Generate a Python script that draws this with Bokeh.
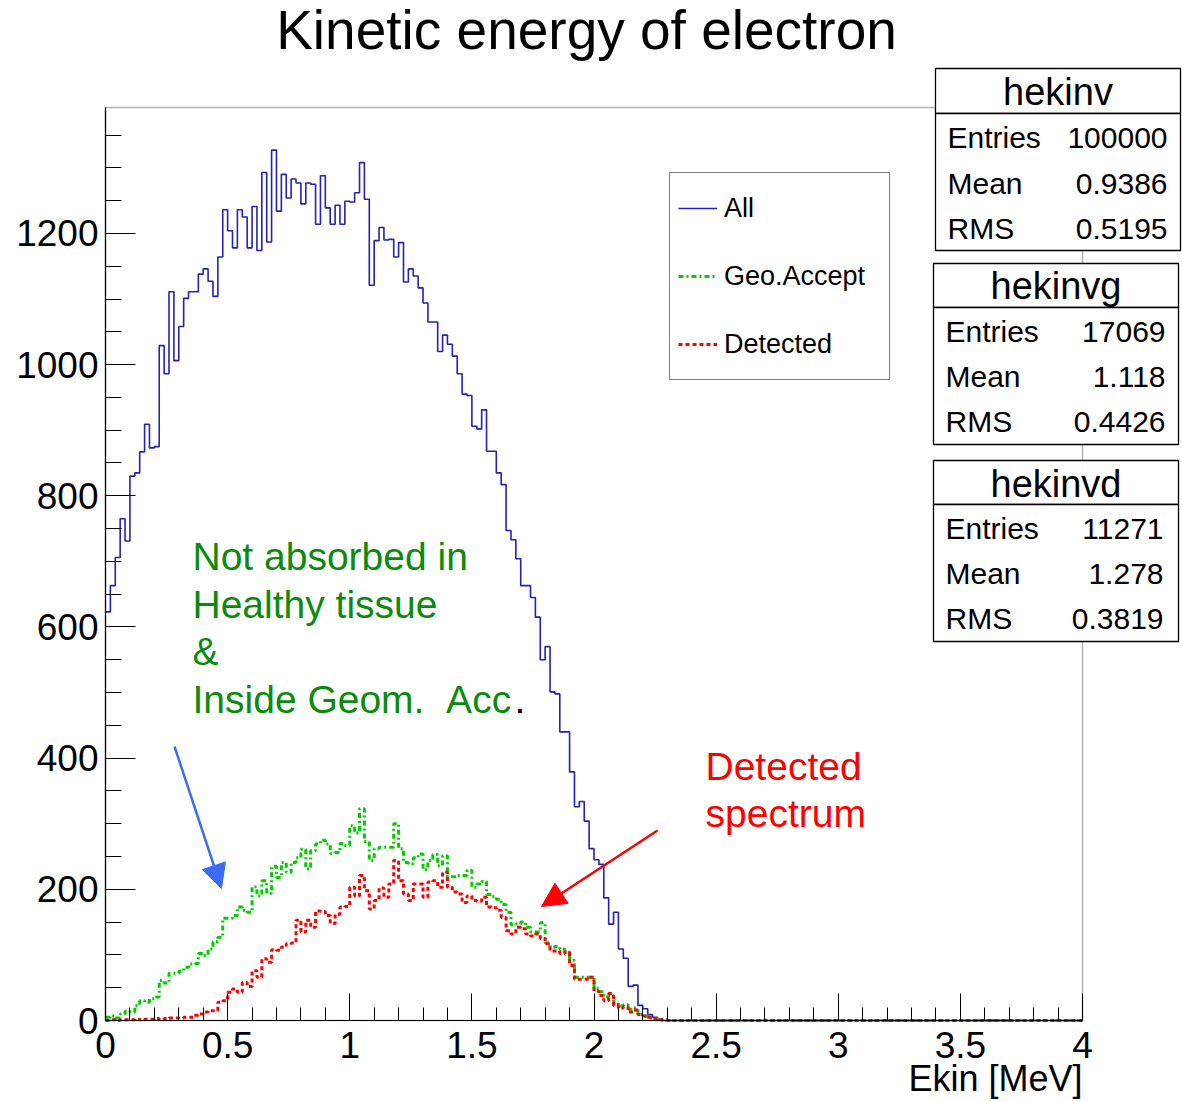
import numpy as np
from bokeh.plotting import figure
from bokeh.models import (Range1d, FixedTicker, Label, BoxAnnotation, Arrow,
                          NormalHead, Legend, LegendItem)
from bokeh.embed import file_html
from bokeh.resources import INLINE

# ---- histogram data: 200 bins of 0.02 MeV from 0 to 4 MeV ----
bin_width = 0.02
n_bins = 200

all_counts = [
    623, 663, 706, 765, 731, 830, 835, 867, 909, 873,
    875, 1029, 986, 1111, 1006, 1058, 1101, 1111, 1111, 1138,
    1146, 1127, 1104, 1164, 1236, 1204, 1178, 1236, 1225, 1178,
    1241, 1174, 1293, 1187, 1327, 1234, 1290, 1254, 1283, 1277,
    1245, 1277, 1275, 1214, 1288, 1239, 1214, 1243, 1214, 1249,
    1248, 1262, 1308, 1252, 1121, 1189, 1209, 1190, 1191, 1164,
    1186, 1126, 1146, 1135, 1117, 1094, 1065, 1065, 1020, 1045,
    1031, 1013, 986, 955, 953, 906, 902, 931, 868, 868,
    835, 817, 747, 733, 704, 663, 663, 645, 615, 550,
    570, 501, 498, 440, 440, 379, 326, 334, 304, 262,
    245, 238, 187, 147, 165, 109, 95, 52, 54, 23,
    18, 9, 5, 2,
]

geo_counts = [
    5, 7, 4, 10, 14, 13, 23, 30, 28, 33,
    36, 61, 57, 72, 72, 75, 81, 86, 87, 102,
    99, 109, 120, 127, 156, 156, 160, 173, 168, 165,
    204, 190, 213, 194, 235, 218, 241, 226, 241, 248,
    261, 231, 259, 269, 275, 269, 255, 256, 270, 267,
    297, 286, 323, 273, 244, 262, 264, 264, 264, 300,
    262, 241, 239, 248, 254, 230, 244, 253, 236, 251,
    219, 219, 221, 221, 229, 203, 208, 212, 192, 189,
    185, 177, 165, 146, 147, 150, 142, 135, 135, 149,
    118, 112, 113, 109, 104, 92, 66, 66, 66, 66,
    49, 44, 36, 38, 27, 22, 24, 17, 19, 9,
    7, 4, 3, 1,
]

det_counts = [
    0, 1, 0, 1, 1, 1, 2, 1, 2, 2,
    3, 2, 3, 4, 4, 4, 5, 5, 8, 10,
    13, 15, 15, 28, 30, 43, 48, 43, 58, 52,
    76, 66, 94, 89, 108, 107, 112, 117, 118, 153,
    135, 153, 142, 167, 166, 160, 148, 162, 173, 174,
    203, 190, 221, 198, 170, 183, 202, 188, 208, 244,
    213, 193, 183, 208, 208, 188, 211, 213, 203, 226,
    203, 196, 193, 180, 190, 183, 182, 188, 173, 172,
    168, 157, 137, 132, 142, 140, 132, 129, 132, 125,
    117, 106, 106, 102, 104, 84, 63, 63, 63, 66,
    45, 38, 30, 41, 23, 19, 21, 13, 16, 9,
    7, 5, 3, 1, 1,
]

series_names = ["All", "Geo.Accept", "Detected"]

# axis ticks
x_ticks = [0, 0.5, 1, 1.5, 2, 2.5, 3, 3.5, 4]
x_tick_labels = ["0", "0.5", "1", "1.5", "2", "2.5", "3", "3.5", "4"]
y_ticks = [0, 200, 400, 600, 800, 1000, 1200]
y_tick_labels = ["0", "200", "400", "600", "800", "1000", "1200"]

# statistics boxes
stat_names = ["hekinv", "hekinvg", "hekinvd"]
stat_entries = ["100000", "17069", "11271"]
stat_means = ["0.9386", "1.118", "1.278"]
stat_rms = ["0.5195", "0.4426", "0.3819"]

X_MAX = 4.0
Y_MAX = 1392.0
FONT = "Liberation Sans"

# pixel placement of the histogram area on the page
FL, FR, FT, FB = 105, 1082, 107, 1020
W, H = 1182, 1101


def dx(px):
    return (px - FL) / (FR - FL) * X_MAX


def dy(py):
    return (FB - py) / (FB - FT) * Y_MAX


def full(vals):
    return np.array(list(vals) + [0] * (n_bins - len(vals)), dtype=float)


edges = np.arange(n_bins + 1) * bin_width

# the drawing area spans the whole page so that the title, the axis title
# and the statistics boxes can sit around the histogram frame
p = figure(width=W, height=H, output_backend="svg", toolbar_location=None,
           x_range=Range1d(dx(0), dx(W)), y_range=Range1d(dy(H), dy(0)),
           min_border=0, min_border_left=0, min_border_right=0,
           min_border_top=0, min_border_bottom=0,
           background_fill_color="white", border_fill_color="white")
p.title.visible = False
p.grid.visible = False
p.outline_line_color = None

# histogram frame
p.add_layout(BoxAnnotation(left=0, right=X_MAX, bottom=0, top=Y_MAX,
                           fill_alpha=0, line_color="black", line_width=1.5))

# histograms drawn as steps
styles = [
    dict(color="#2323b0", width=1.6, dash="solid"),
    dict(color="#00cc00", width=3, dash="5 3 2 3"),
    dict(color="#ff0000", width=3, dash="4 3"),
]
renderers = []
for vals, st in zip([all_counts, geo_counts, det_counts], styles):
    y = full(vals)
    r = p.step(x=edges, y=np.append(y, y[-1]), mode="after",
               line_color=st["color"], line_width=st["width"],
               line_dash=st["dash"])
    renderers.append(r)

# axes pinned to the histogram frame, ticks pointing inwards
xa = p.xaxis[0]
xa.fixed_location = 0
xa.bounds = (0, X_MAX)
xa.ticker = FixedTicker(ticks=x_ticks,
                        minor_ticks=list(np.round(np.arange(0, 4.001, 0.1), 3)))
xa.major_label_overrides = {t: s for t, s in zip(x_ticks, x_tick_labels)}
xa.major_tick_in = 27
xa.major_tick_out = 0
xa.minor_tick_in = 13
xa.minor_tick_out = 0
xa.major_label_standoff = 11

ya = p.yaxis[0]
ya.fixed_location = 0
ya.bounds = (0, Y_MAX)
ya.ticker = FixedTicker(ticks=y_ticks, minor_ticks=list(range(0, 1351, 50)))
ya.major_label_overrides = {t: s for t, s in zip(y_ticks, y_tick_labels)}
ya.major_tick_in = 30
ya.major_tick_out = 0
ya.minor_tick_in = 16
ya.minor_tick_out = 0
ya.major_label_standoff = 7

for ax in (xa, ya):
    ax.major_label_text_font = FONT
    ax.major_label_text_font_size = "37px"
    ax.major_label_text_color = "black"
    ax.axis_line_color = "black"
    ax.axis_line_width = 1.2
    ax.major_tick_line_color = "black"
    ax.minor_tick_line_color = "black"
    ax.axis_label = None


def text(px, py, s, size, color="black", align="left", level="annotation"):
    p.add_layout(Label(x=dx(px), y=dy(py), text=s, text_font=FONT,
                       text_font_size=f"{size}px", text_color=color,
                       text_align=align, text_baseline="middle", level=level))


# title and axis title
text(586, 29, "Kinetic energy of electron", 55, align="center")
text(1082, 1078, "Ekin [MeV]", 36, align="right")

# legend
legend = Legend(
    items=[LegendItem(label=n, renderers=[r]) for n, r in zip(series_names, renderers)],
    location=(669, H - 380), orientation="vertical",
    padding=8, spacing=14, margin=0,
    glyph_width=39, glyph_height=54, label_height=54, label_width=157,
    label_standoff=7, label_text_font=FONT, label_text_font_size="27px",
    label_text_color="black",
    border_line_color="black", border_line_width=1.5,
    background_fill_color="white", background_fill_alpha=1.0,
)
p.add_layout(legend, "center")

# statistics boxes
boxes = [
    dict(l=935, r=1180, t=68, h=113, b=250, ty=91, rows=(137, 183, 228), tl=947, tr=1167),
    dict(l=933, r=1178, t=263, h=307, b=444, ty=285, rows=(331, 376, 421), tl=945, tr=1165),
    dict(l=933, r=1178, t=460, h=504, b=641, ty=483, rows=(528, 573, 618), tl=945, tr=1163),
]
for bx, name, ent, mean, rms in zip(boxes, stat_names, stat_entries, stat_means, stat_rms):
    for top, bot in ((bx["t"], bx["h"]), (bx["h"], bx["b"])):
        p.add_layout(BoxAnnotation(left=dx(bx["l"]), right=dx(bx["r"]),
                                   top=dy(top), bottom=dy(bot),
                                   fill_color="white", fill_alpha=1.0,
                                   line_color="black", line_width=1.3,
                                   line_alpha=1.0, level="overlay"))
    text((bx["l"] + bx["r"]) / 2, bx["ty"], name, 38, align="center", level="overlay")
    for ry, key, val in zip(bx["rows"], ["Entries", "Mean", "RMS"], [ent, mean, rms]):
        text(bx["tl"], ry, key, 30, level="overlay")
        text(bx["tr"], ry, val, 30, align="right", level="overlay")

# annotations
green_txt = "#0b8a0b"
green_lines = ["Not absorbed in", "Healthy tissue", "&", "Inside Geom.\u00a0\u00a0Acc"]
for i, line in enumerate(green_lines):
    text(192, 556 + 47.7 * i, line, 39, color=green_txt)
text(514, 699, ".", 39)
text(705, 766, "Detected", 39, color="#ff0000")
text(705, 813, "spectrum", 39, color="#ff0000")

blue_arrow = "#3b6cf6"
p.add_layout(Arrow(end=NormalHead(size=24, fill_color=blue_arrow, line_color=blue_arrow),
                   x_start=dx(174), y_start=dy(746), x_end=dx(221), y_end=dy(888),
                   line_color=blue_arrow, line_width=2.5))
p.add_layout(Arrow(end=NormalHead(size=24, fill_color="#ff0000", line_color="#ff0000"),
                   x_start=dx(657), y_start=dy(830), x_end=dx(541), y_end=dy(906),
                   line_color="#ff0000", line_width=2.5))

open("out.html", "w").write(file_html(p, INLINE))
